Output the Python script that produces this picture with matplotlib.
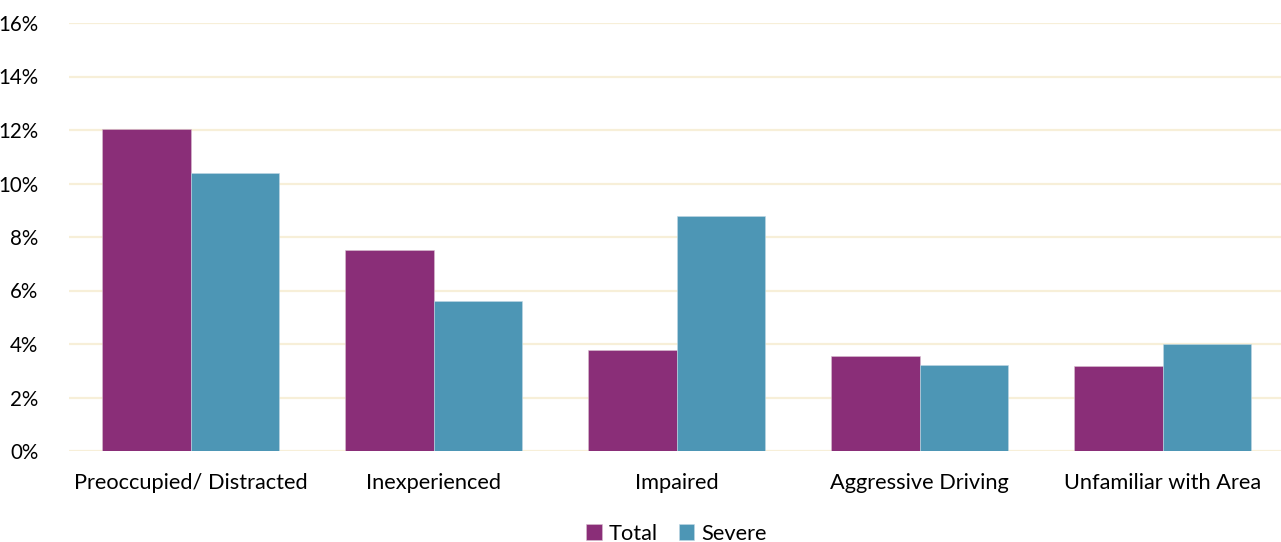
import matplotlib.pyplot as plt
import numpy as np
from matplotlib.ticker import PercentFormatter

# Chart data
categories = ['Preoccupied/ Distracted', 'Inexperienced', 'Impaired',
              'Aggressive Driving', 'Unfamiliar with Area']
total_vals = [12.05, 7.52, 3.78, 3.56, 3.17]
severe_vals = [10.39, 5.61, 8.79, 3.20, 4.00]
series_names = ['Total', 'Severe']

PURPLE = '#8A2E78'
TEAL = '#4D96B5'
GRID = '#F7EFD8'

plt.rcParams['font.family'] = ['Lato', 'DejaVu Sans']

fig = plt.figure(figsize=(12.81, 5.42), dpi=100)
ax = fig.add_axes([69 / 1281, 91 / 542, 1215 / 1281, 428 / 542])

x = np.arange(len(categories))
w = 0.363
ax.bar(x - w / 2, total_vals, width=w, color=PURPLE, label=series_names[0],
       edgecolor='#d8c0d0', linewidth=0.4, zorder=3)
ax.bar(x + w / 2, severe_vals, width=w, color=TEAL, label=series_names[1],
       edgecolor='#c0d8e4', linewidth=0.4, zorder=3)

ax.set_xlim(-0.5, len(categories) - 0.5)
ax.set_ylim(0, 16)
ax.set_yticks(np.arange(0, 17, 2))
ax.yaxis.set_major_formatter(PercentFormatter(decimals=0))
ax.grid(axis='y', color=GRID, linewidth=1.6, zorder=0)
ax.set_axisbelow(True)
for s in ax.spines.values():
    s.set_visible(False)
ax.tick_params(axis='both', length=0, labelsize=15.7, colors='black')
ax.tick_params(axis='y', pad=22, labelsize=14.8)
ax.tick_params(axis='x', pad=16)
ax.set_xticks(x)
ax.set_xticklabels(categories)

ax.legend(loc='lower center', bbox_to_anchor=(0.5, -0.262), ncol=2, frameon=False,
          fontsize=15.7, handlelength=0.7, handleheight=0.7, handletextpad=0.3,
          columnspacing=1.0)

fig.savefig('out.png', dpi=100)
